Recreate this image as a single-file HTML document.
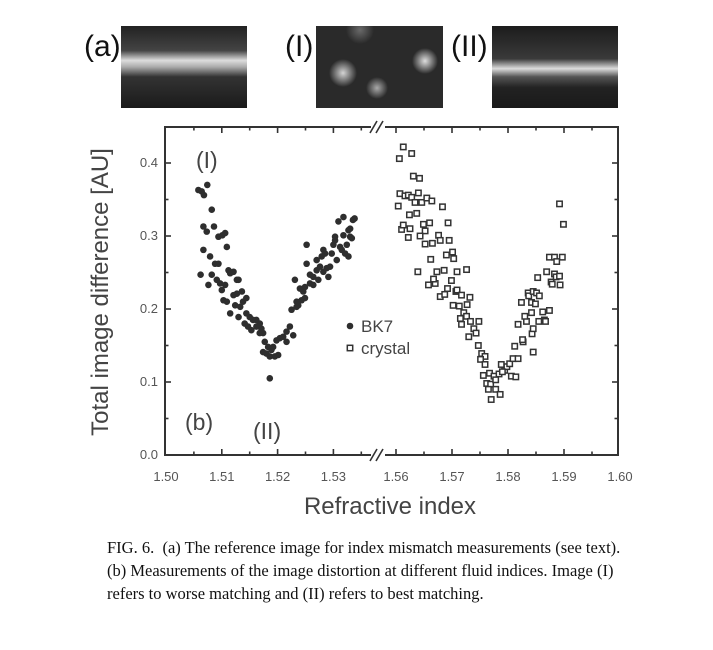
<!DOCTYPE html>
<html><head><meta charset="utf-8"><style>
body{margin:0;background:#fff;width:713px;height:650px;overflow:hidden;position:relative;font-family:"Liberation Sans",sans-serif}
.cap{position:absolute;left:107px;font-family:"Liberation Serif",serif;font-size:16.5px;color:#111;white-space:nowrap}
</style></head><body>
<svg width="713" height="650" style="position:absolute;left:0;top:0">
<defs>
<radialGradient id="g1" cx="0.5" cy="0.5" r="0.5"><stop offset="0" stop-color="#fff"/><stop offset="1" stop-color="#fff" stop-opacity="0"/></radialGradient>
<linearGradient id="band" x1="0" y1="0" x2="0" y2="1"><stop offset="0" stop-color="#222"/><stop offset="0.3" stop-color="#444"/><stop offset="0.42" stop-color="#ddd"/><stop offset="0.5" stop-color="#aaa"/><stop offset="0.62" stop-color="#333"/><stop offset="1" stop-color="#1a1a1a"/></linearGradient>
<linearGradient id="band3" x1="0" y1="0" x2="0" y2="1"><stop offset="0" stop-color="#1c1c1c"/><stop offset="0.4" stop-color="#3a3a3a"/><stop offset="0.52" stop-color="#ddd"/><stop offset="0.62" stop-color="#555"/><stop offset="0.75" stop-color="#222"/><stop offset="1" stop-color="#1a1a1a"/></linearGradient>
</defs>
<g font-family="Liberation Sans, sans-serif" font-size="30" fill="#111">
<text x="84" y="56">(a)</text>
<rect x="121" y="26" width="126" height="82" fill="url(#band)"/>
<text x="285" y="56">(I)</text>
<rect x="316" y="26" width="127" height="82" fill="#2a2a2a"/>
<circle cx="343" cy="73" r="14" fill="url(#g1)" opacity="0.8"/><circle cx="425" cy="61" r="13" fill="url(#g1)" opacity="0.85"/><circle cx="377" cy="88" r="11" fill="url(#g1)" opacity="0.6"/><circle cx="360" cy="30" r="14" fill="url(#g1)" opacity="0.3"/>
<text x="451" y="56">(II)</text>
<rect x="492" y="26" width="126" height="82" fill="url(#band3)"/>
</g>
<g id="plot"></g>
</svg>
<div class="cap" style="top:538px">FIG. 6.&nbsp; (a) The reference image for index mismatch measurements (see text).</div>
<div class="cap" style="top:561px">(b) Measurements of the image distortion at different fluid indices. Image (I)</div>
<div class="cap" style="top:584px">refers to worse matching and (II) refers to best matching.</div>
<script>
const bk7N=[1.5058,1.5064,1.5068,1.5074,1.5067,1.5062,1.5067,1.5073,1.5082,1.5086,1.5094,1.5101,1.5106,1.5109,1.5079,1.5088,1.5094,1.5076,1.5082,1.5091,1.5097,1.5100,1.5106,1.5112,1.5115,1.5121,1.5127,1.5130,1.5109,1.5115,1.5103,1.5121,1.5127,1.5133,1.5136,1.5138,1.5144,1.5124,1.5130,1.5144,1.5150,1.5156,1.5162,1.5168,1.5141,1.5147,1.5153,1.5162,1.5171,1.5174,1.5168,1.5177,1.5183,1.5189,1.5180,1.5186,1.5192,1.5198,1.5204,1.5210,1.5216,1.5195,1.5201,1.5186,1.5174,1.5216,1.5222,1.5228,1.5225,1.5234,1.5237,1.5231,1.5243,1.5246,1.5249,1.5252,1.5249,1.5258,1.5264,1.5270,1.5270,1.5273,1.5279,1.5282,1.5285,1.5288,1.5291,1.5297,1.5300,1.5303,1.5306,1.5309,1.5315,1.5318,1.5324,1.5327,1.5330,1.5335,1.5338,1.5333,1.5318,1.5321,1.5327,1.5252,1.5258,1.5264,1.5276,1.5282,1.5294,1.5303,1.5312,1.5330,1.5240,1.5234];
const bk7V=[.363,.361,.356,.370,.281,.247,.313,.306,.336,.313,.299,.301,.304,.285,.272,.262,.262,.233,.247,.240,.235,.226,.233,.253,.249,.251,.240,.240,.210,.194,.212,.219,.221,.203,.224,.210,.215,.205,.189,.194,.189,.185,.185,.180,.180,.176,.171,.176,.173,.167,.167,.155,.148,.144,.139,.135,.148,.157,.160,.162,.155,.135,.137,.105,.141,.169,.176,.164,.199,.210,.205,.240,.212,.224,.215,.262,.230,.235,.244,.267,.253,.240,.272,.281,.276,.256,.244,.276,.288,.294,.267,.320,.281,.301,.288,.308,.299,.322,.324,.297,.326,.276,.272,.288,.247,.233,.258,.251,.258,.299,.285,.310,.228,.203];
const crN=[1.5606,1.5613,1.5628,1.5631,1.5642,1.5604,1.5607,1.5616,1.5622,1.5628,1.5634,1.5640,1.5646,1.5655,1.5664,1.5683,1.5610,1.5613,1.5625,1.5624,1.5637,1.5622,1.5649,1.5660,1.5652,1.5643,1.5652,1.5665,1.5676,1.5679,1.5693,1.5695,1.5690,1.5701,1.5703,1.5662,1.5639,1.5673,1.5686,1.5709,1.5726,1.5658,1.5670,1.5667,1.5679,1.5687,1.5692,1.5699,1.5707,1.5709,1.5717,1.5702,1.5713,1.5727,1.5732,1.5721,1.5715,1.5726,1.5733,1.5748,1.5717,1.5739,1.5743,1.5730,1.5747,1.5753,1.5759,1.5751,1.5759,1.5756,1.5767,1.5775,1.5784,1.5762,1.5769,1.5778,1.5765,1.5778,1.5786,1.5770,1.5788,1.5794,1.5798,1.5803,1.5806,1.5814,1.5809,1.5818,1.5790,1.5812,1.5818,1.5824,1.5827,1.5833,1.5826,1.5836,1.5837,1.5845,1.5851,1.5842,1.5849,1.5856,1.5830,1.5842,1.5843,1.5845,1.5853,1.5855,1.5865,1.5862,1.5867,1.5874,1.5869,1.5877,1.5879,1.5883,1.5886,1.5892,1.5893,1.5874,1.5883,1.5897,1.5887,1.5892,1.5899,1.5845];
const crV=[.406,.422,.413,.382,.379,.341,.358,.355,.356,.353,.346,.359,.346,.352,.348,.340,.309,.315,.310,.329,.331,.298,.316,.318,.307,.300,.289,.290,.301,.294,.318,.294,.274,.278,.269,.268,.251,.251,.253,.251,.254,.233,.235,.241,.217,.220,.228,.239,.224,.226,.219,.205,.204,.206,.216,.195,.187,.190,.183,.183,.179,.173,.167,.162,.150,.139,.135,.131,.124,.109,.112,.108,.111,.098,.097,.103,.090,.090,.083,.076,.124,.116,.121,.125,.108,.107,.132,.132,.114,.149,.179,.209,.155,.183,.158,.222,.218,.224,.222,.209,.207,.218,.190,.195,.166,.141,.243,.183,.185,.196,.183,.198,.251,.237,.234,.248,.244,.245,.233,.271,.271,.271,.265,.344,.316,.173];
const xTicksLeft=[1.50,1.51,1.52,1.53];
const xTicksRight=[1.56,1.57,1.58,1.59,1.60];
const yTicks=[0.0,0.1,0.2,0.3,0.4];

const L=165,R=618,T=127,B=455,BRK=378;
function xs(n){return n<1.55?166+(n-1.5)*5580:396+(n-1.56)*5600;}
function ys(v){return B-v*730;}
const NS='http://www.w3.org/2000/svg';
const g=document.getElementById('plot');
function mk(tag,attrs,parent){const e=document.createElementNS(NS,tag);for(const k in attrs)e.setAttribute(k,attrs[k]);(parent||g).appendChild(e);return e;}
const C='#333';
// frame
let fr=mk('rect',{x:L,y:T,width:R-L,height:B-T,fill:'none',stroke:C,'stroke-width':2});


// ticks
function tick(x,y,dx,dy,len){mk('line',{x1:x,y1:y,x2:x+dx*len,y2:y+dy*len,stroke:C,'stroke-width':1.6});}
[...xTicksLeft,...xTicksRight].forEach(n=>{
  const x=xs(n);
  if(x>L+2&&x<R-2){tick(x,B,0,-1,6);tick(x,T,0,1,6);}
  const t=mk('text',{x:x,y:B+26,'text-anchor':'middle','font-size':13,fill:'#555'});t.textContent=n.toFixed(2);
  
  
});
[1.505,1.515,1.525,1.535,1.565,1.575,1.585,1.595].forEach(n=>{const x=xs(n);tick(x,B,0,-1,3.5);tick(x,T,0,1,3.5);});
yTicks.forEach(v=>{
  const y=ys(v);
  if(v>0){tick(L,y,1,0,6);tick(R,y,-1,0,6);}
  const t=mk('text',{x:158,y:y+4,'text-anchor':'end','font-size':13,fill:'#555'});t.textContent=v.toFixed(1);
  
  
});
[0.05,0.15,0.25,0.35].forEach(v=>{const y=ys(v);tick(L,y,1,0,3.5);tick(R,y,-1,0,3.5);});
// axis break
[T,B].forEach(y=>{
  mk('rect',{x:BRK-7,y:y-4,width:14,height:8,fill:'#fff'});
  mk('line',{x1:BRK-8,y1:y+6,x2:BRK-1,y2:y-6,stroke:C,'stroke-width':1.6});
  mk('line',{x1:BRK-2,y1:y+6,x2:BRK+5,y2:y-6,stroke:C,'stroke-width':1.6});
});
// data
bk7N.forEach((n,i)=>{
  const c=mk('circle',{cx:xs(n),cy:ys(bk7V[i]),r:3.3,fill:'#2e2e2e'});
  
  
});
crN.forEach((n,i)=>{
  const s=mk('rect',{x:xs(n)-2.7,y:ys(crV[i])-2.7,width:5.4,height:5.4,fill:'#fff',stroke:'#333','stroke-width':1.5});
  
  
});
// legend
let lc=mk('circle',{cx:350,cy:326,r:3.3,fill:'#2e2e2e'});


let lt=mk('text',{x:361,y:332,'font-size':17,fill:'#444'});lt.textContent='BK7';


let ls=mk('rect',{x:347.3,y:345.3,width:5.4,height:5.4,fill:'#fff',stroke:'#333','stroke-width':1.5});


let lt2=mk('text',{x:361,y:354,'font-size':17,fill:'#444'});lt2.textContent='crystal';


// annotations
function ann(txt,x,y,name){const t=mk('text',{x:x,y:y,'font-size':23,fill:'#444'});t.textContent=txt;

}
ann('(I)',196,168,'annotation-I');
ann('(II)',253,439,'annotation-II');
ann('(b)',185,430,'annotation-b');
// axis titles
let xt=mk('text',{x:390,y:514,'text-anchor':'middle','font-size':24,fill:'#444'});xt.textContent='Refractive index';


let yt=mk('text',{x:0,y:0,'text-anchor':'middle','font-size':24,fill:'#444',transform:'translate(108,292) rotate(-90)'});yt.textContent='Total image difference [AU]';


</script>
</body></html>
